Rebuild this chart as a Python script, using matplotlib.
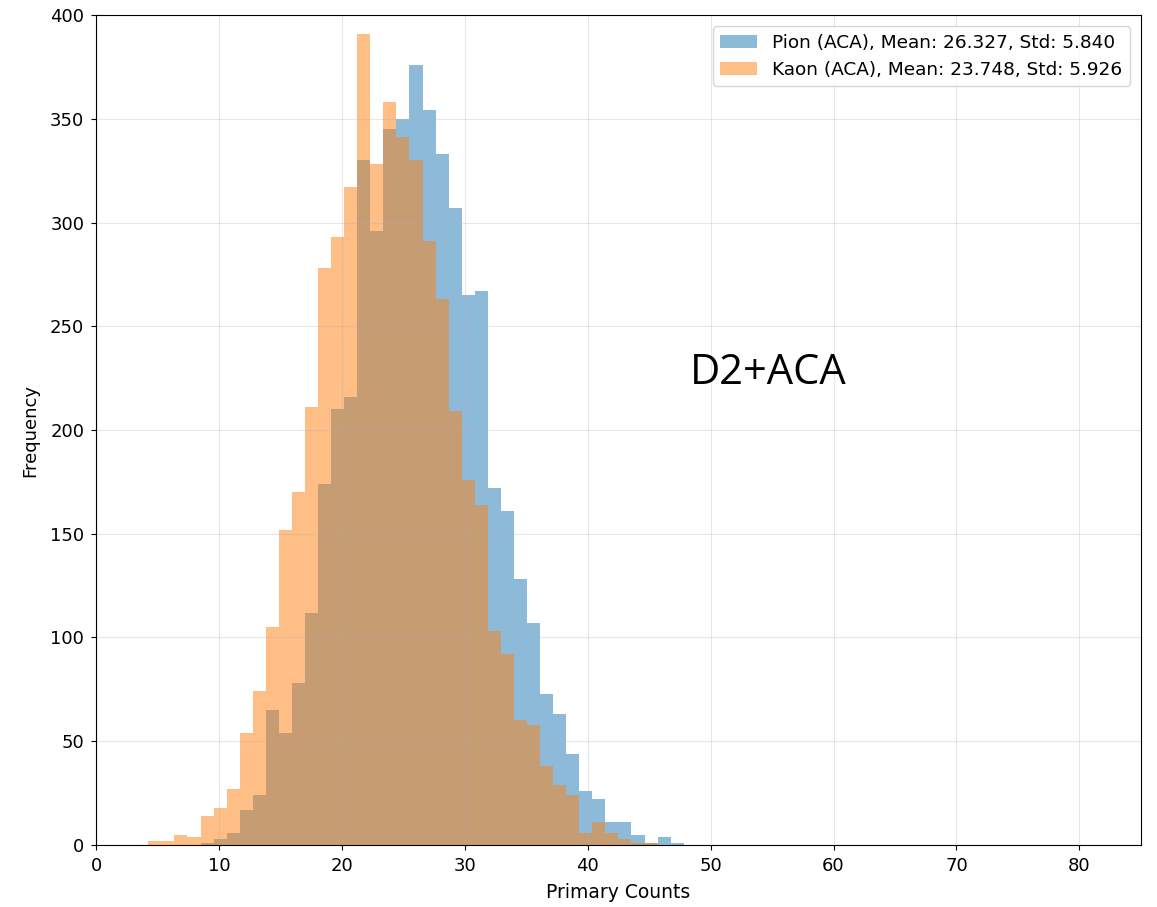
import numpy as np
import matplotlib.pyplot as plt

# histogram bins: 80 equal bins over 0..85
edges = np.linspace(0, 85, 81)
first_bin = 4

# counts per bin, starting at bin index 4
kaon_counts = [2, 2, 5, 4, 14, 18, 27, 54, 74, 105, 152, 170, 211, 278, 293, 317,
               391, 328, 358, 341, 330, 291, 263, 209, 176, 164, 103, 92, 60, 58,
               38, 29, 24, 6, 11, 6, 3, 1, 1, 0, 0]
pion_counts = [0, 0, 0, 0, 1, 3, 6, 17, 24, 65, 54, 78, 112, 174, 210, 216,
               330, 296, 345, 350, 376, 354, 333, 307, 265, 267, 172, 161, 128, 107,
               73, 63, 44, 26, 22, 11, 11, 5, 1, 4, 1]

pion_label = 'Pion (ACA), Mean: 26.327, Std: 5.840'
kaon_label = 'Kaon (ACA), Mean: 23.748, Std: 5.926'

centers = (edges[:-1] + edges[1:]) / 2
idx = np.arange(first_bin, first_bin + len(pion_counts))

fig = plt.figure(figsize=(11.57, 9.07), dpi=100)
ax = fig.add_axes([0.083, 0.0684, 0.903, 0.915])

ax.hist(centers[idx], bins=edges, weights=pion_counts, alpha=0.5, label=pion_label)
ax.hist(centers[idx], bins=edges, weights=kaon_counts, alpha=0.5, label=kaon_label)

ax.set_xlim(0, 85)
ax.set_ylim(0, 400)
ax.grid(True, alpha=0.3)
ax.tick_params(labelsize=13, pad=5)
ax.set_xlabel('Primary Counts', fontsize=13.5, labelpad=6)
ax.set_ylabel('Frequency', fontsize=13, labelpad=8)
ax.legend(loc='upper right', fontsize=13.3, borderaxespad=0.6)

ax.text(48.3, 222, 'D2+ACA', fontsize=30, family=['Open Sans', 'DejaVu Sans'])

fig.savefig('out.png', dpi=100)
